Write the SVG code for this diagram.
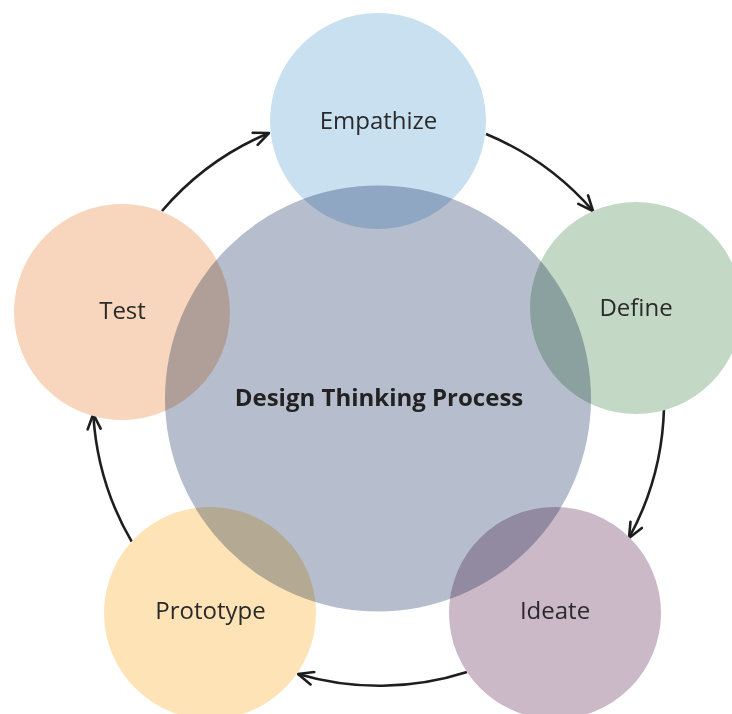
<svg xmlns="http://www.w3.org/2000/svg" width="732" height="714" viewBox="0 0 732 714">
<style>
.lbl{font-family:"Open Sans","Noto Sans","DejaVu Sans",sans-serif;font-size:24px;fill:#2a2a2a;text-anchor:middle}
.ttl{font-family:"Open Sans","Noto Sans","DejaVu Sans",sans-serif;font-size:24px;font-weight:bold;fill:#222;text-anchor:middle}
.arc{fill:none;stroke:#1e1e1e;stroke-width:2.6;marker-end:url(#ah)}
</style>
<defs>
<marker id="ah" markerUnits="userSpaceOnUse" viewBox="0 0 18 16" markerWidth="18" markerHeight="16" refX="17" refY="8" orient="auto">
<path d="M2,1.5 L17,8 L2,14.5" fill="none" stroke="#1e1e1e" stroke-width="2.6" stroke-linecap="round" stroke-linejoin="round"/>
</marker>
</defs>
<rect width="732" height="714" fill="#ffffff"/>
<g id="connectors">
<path class="arc" d="M162,211 A286,286 0 0 1 269,133"/>
<path class="arc" d="M486,134 A286,286 0 0 1 593,211"/>
<path class="arc" d="M664,408 A286,286 0 0 1 629,538"/>
<path class="arc" d="M467,672 A286,286 0 0 1 298,674"/>
<path class="arc" d="M131.7,541.7 A286,286 0 0 1 93.3,414"/>
</g>
<g id="empathize"><circle cx="378" cy="121" r="108" fill="#c8e0f0"/></g>
<g id="define"><circle cx="636" cy="308" r="106" fill="#c3d8c5"/></g>
<g id="ideate"><circle cx="555" cy="613" r="106" fill="#cbb9c8"/></g>
<g id="prototype"><circle cx="210" cy="613" r="106" fill="#fde3b6"/></g>
<g id="test"><circle cx="122" cy="312" r="108" fill="#f7d6bd"/></g>
<g id="center"><circle cx="378" cy="398.5" r="213" fill="#b6bece" style="mix-blend-mode:multiply"/></g>
<g id="labels">
<text class="lbl" x="378.5" y="128.5">Empathize</text>
<text class="lbl" x="636" y="316">Define</text>
<text class="lbl" x="555" y="619">Ideate</text>
<text class="lbl" x="210.5" y="619">Prototype</text>
<text class="lbl" x="122.5" y="318.5">Test</text>
<text class="ttl" x="379" y="406">Design Thinking Process</text>
</g>
</svg>
